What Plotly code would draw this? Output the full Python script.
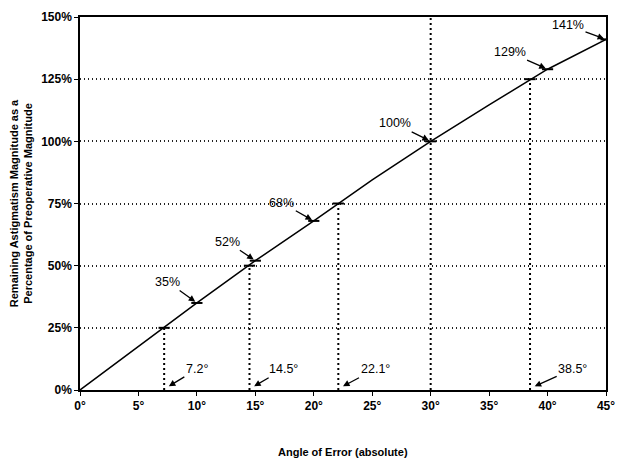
import plotly.graph_objects as go

# Data
angles = [0, 5, 10, 15, 20, 25, 30, 35, 40, 45]
remaining_pct = [0, 17.4, 35, 52, 68, 84.5, 100, 114.7, 129, 141]

label_angles = [10, 15, 20, 30, 40, 45]
label_values = [35, 52, 68, 100, 129, 141]
label_texts = ["35%", "52%", "68%", "100%", "129%", "141%"]
label_offsets = [(-29, -21), (-28, -19), (-32, -18), (-36, -18), (-38, -17), (-38, -14)]

drop_angles = [7.2, 14.5, 22.1, 38.5]
drop_values = [25, 50, 75, 125]
drop_texts = ["7.2°", "14.5°", "22.1°", "38.5°"]
drop_offsets = [(28, -17), (29, -17), (32, -17), (38, -17)]

x_ticks = [0, 5, 10, 15, 20, 25, 30, 35, 40, 45]
x_tick_labels = [f"{v}°" for v in x_ticks]
y_ticks = [0, 25, 50, 75, 100, 125, 150]
y_tick_labels = [f"{v}%" for v in y_ticks]

FONT = "Liberation Sans, Arial, sans-serif"

fig = go.Figure()

fig.add_trace(go.Scatter(
    x=angles, y=remaining_pct, mode="lines",
    line=dict(color="black", width=1.5), showlegend=False, hoverinfo="skip"))

fig.add_trace(go.Scatter(
    x=label_angles + drop_angles, y=label_values + drop_values, mode="markers",
    marker=dict(symbol="line-ew-open", size=8, color="black", line=dict(color="black", width=2)),
    showlegend=False, hoverinfo="skip"))

# vertical dotted line at 30 deg
fig.add_shape(type="line", x0=30, x1=30, y0=0, y1=150, xref="x", yref="y",
              line=dict(color="black", width=2, dash="2px,3px"), layer="below")
for a, v in zip(drop_angles, drop_values):
    fig.add_shape(type="line", x0=a, x1=a, y0=0, y1=v, xref="x", yref="y",
                  line=dict(color="black", width=2, dash="2px,3px"), layer="below")

annotations = []
for a, v, t, (ax, ay) in zip(label_angles, label_values, label_texts, label_offsets):
    annotations.append(dict(x=a, y=v, xref="x", yref="y", text=t, showarrow=True,
                            ax=ax, ay=ay, arrowhead=2, arrowsize=1, arrowwidth=1.3,
                            arrowcolor="black", standoff=2,
                            font=dict(family=FONT, size=12.5, color="black")))
for a, t, (ax, ay) in zip(drop_angles, drop_texts, drop_offsets):
    annotations.append(dict(x=a + 0.4, y=1.5, xref="x", yref="y", text=t, showarrow=True,
                            ax=ax, ay=ay, arrowhead=2, arrowsize=1, arrowwidth=1.3,
                            arrowcolor="black", standoff=0,
                            font=dict(family=FONT, size=12.5, color="black")))
annotations.append(dict(x=0.5, y=-0.145, xref="paper", yref="paper",
                        text="<b>Angle of Error (absolute)</b>", showarrow=False,
                        xanchor="center", yanchor="top",
                        font=dict(family=FONT, size=11, color="black")))

fig.update_layout(
    width=619, height=461,
    margin=dict(l=80, r=13, t=17, b=71, autoexpand=False),
    paper_bgcolor="white", plot_bgcolor="white",
    font=dict(family=FONT, color="black"),
    annotations=annotations,
    xaxis=dict(range=[0, 45], tickvals=x_ticks, ticktext=[f"<b>{s}</b>" for s in x_tick_labels],
               automargin=False,
               showgrid=False, zeroline=False, showline=True, linecolor="black", linewidth=1.5,
               mirror=True, ticks="outside", ticklen=4, tickcolor="black",
               tickfont=dict(family=FONT, size=12, color="black")),
    yaxis=dict(range=[0, 150], tickvals=y_ticks, ticktext=[f"<b>{s}</b>" for s in y_tick_labels],
               automargin=False,
               showgrid=True, gridcolor="#222222", griddash="1px,3px", gridwidth=1.5,
               zeroline=False, showline=True, linecolor="black", linewidth=1.5,
               mirror=True, ticks="outside", ticklen=4, tickcolor="black",
               tickfont=dict(family=FONT, size=12, color="black"),
               title=dict(text="<b>Remaining Astigmatism Magnitude as a<br>Percentage of Preoperative Magnitude</b>",
                          font=dict(family=FONT, size=11, color="black"), standoff=6)),
)

fig.write_html("out.html")
